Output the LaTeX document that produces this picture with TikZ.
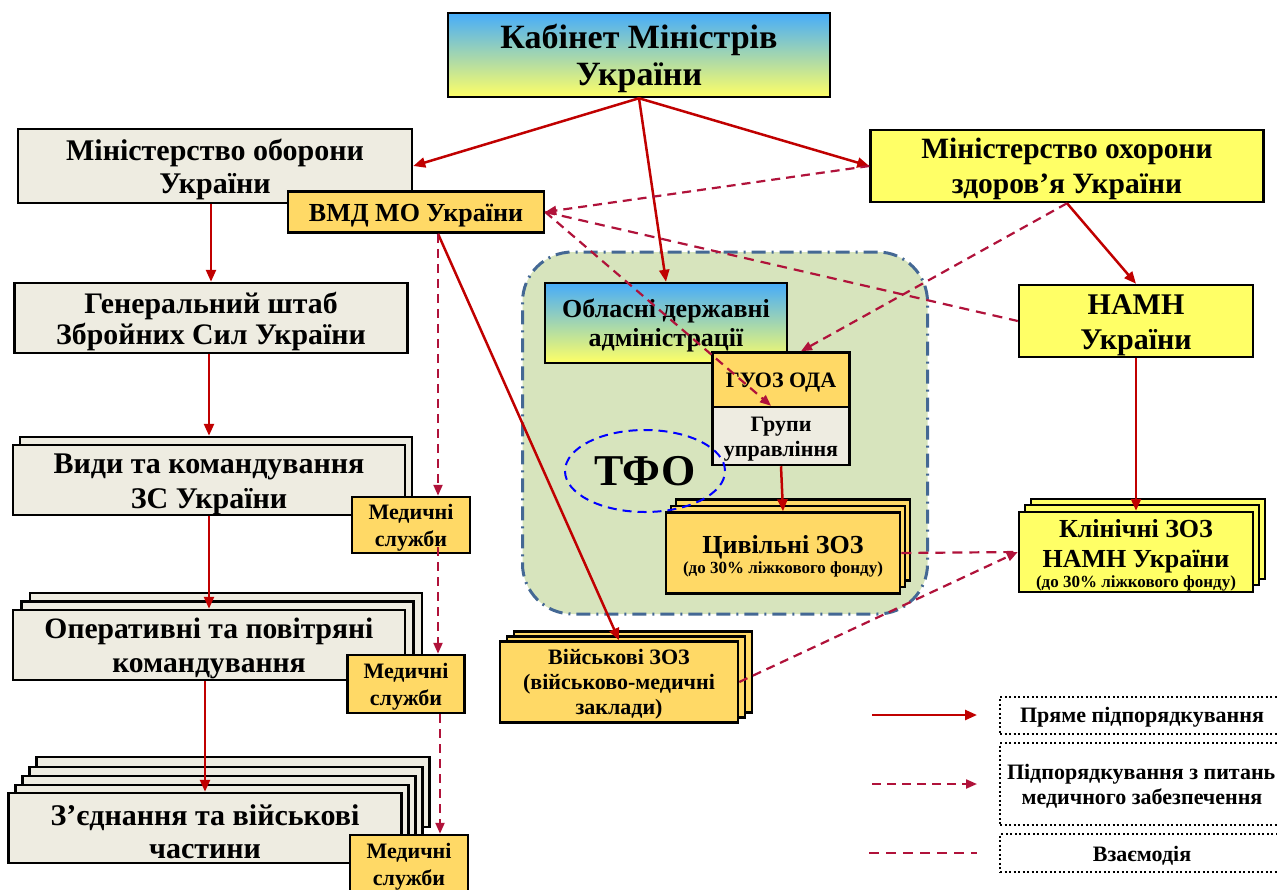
\documentclass[tikz,border=0pt]{standalone}
\usepackage{fontspec}
\setmainfont{Liberation Serif}
\usepackage{tikz}
\usetikzlibrary{shapes.geometric, shadows, arrows.meta}
\definecolor{dark}{RGB}{192, 0, 0}
\definecolor{mid}{RGB}{176, 18, 58}
\definecolor{beige}{RGB}{238, 236, 225}
\definecolor{gold}{RGB}{255, 217, 102}
\definecolor{lemon}{RGB}{255, 255, 102}
\definecolor{sky}{RGB}{70, 172, 250}
\definecolor{sage}{RGB}{215, 228, 189}
\definecolor{steel}{RGB}{68, 104, 148}
\newcommand*{\boxfont}[2]{\fontsize{#1}{#2}\selectfont\bfseries}
\newcommand*{\headroom}{\rule{0pt}{0.92em}}

\begin{document}
\begin{tikzpicture}[
   x=1pt, y=-1pt,
   base/.style={rectangle, draw=black, line width=2.5, text=black, align=center,
                inner sep=0},
   beigebox/.style={base, fill=beige},
   goldbox/.style={base, fill=gold},
   lemonbox/.style={base, fill=lemon},
   gradbox/.style={base, top color=sky, bottom color=lemon},
   pile/.style args={#1/#2/#3}{copy shadow={shadow xshift=#1, shadow yshift=#2,
                fill=#3, draw=black, line width=2.5}},
   region/.style={rectangle, rounded corners=50, draw=steel, fill=sage, line width=3,
                  dash pattern=on 14pt off 6pt on 2pt off 6pt},
   zone/.style={ellipse, draw=blue, line width=2, dash pattern=on 9pt off 6pt,
                inner sep=0},
   keybox/.style={base, line width=2, dash pattern=on 2pt off 2.5pt,
                  minimum width=284},
   direct/.style={-{Triangle[length=12pt, width=10pt]}, color=dark, line width=2.5},
   medical/.style={-{Triangle[length=11pt, width=9pt]}, color=mid, line width=2.2,
                   dash pattern=on 9pt off 6pt},
   contact/.style={color=mid, line width=2.2, dash pattern=on 10pt off 7pt}
  ]

  \useasboundingbox (0, 0) rectangle (1277, 889);

  % Territory
  \node (terr) at (725, 433) [region, minimum width=405, minimum height=362] {};

  \node (cab) at (639, 55) [gradbox, minimum width=382, minimum height=84,
    font=\boxfont{34}{37}] {\headroom Кабінет Міністрів\\України};

  % Defence column
  \node (mo) at (215, 166) [beigebox, minimum width=394, minimum height=74,
    font=\boxfont{30}{33}] {\headroom Міністерство оборони\\України};
  \node (vmd) at (416, 212) [goldbox, minimum width=256, minimum height=41,
    font=\boxfont{26}{28}] {\headroom ВМД МО України};
  \node (gsh) at (211, 318) [beigebox, minimum width=393, minimum height=70,
    font=\boxfont{29.8}{31}] {\headroom Генеральний штаб\\Збройних Сил України};
  \node (vydy) at (209, 480) [beigebox, pile=7pt/8pt/beige, minimum width=392,
    minimum height=70, font=\boxfont{30}{35}] {\headroom Види та командування\\ЗС України};
  \node (med1) at (411, 525) [goldbox, minimum width=118, minimum height=56,
    font=\boxfont{22}{27}] {\headroom Медичні\\служби};
  \node (oper) at (209, 645) [beigebox, pile=17pt/17pt/beige, pile=8.5pt/8.5pt/beige,
    minimum width=392, minimum height=70, font=\boxfont{29.6}{34}]
    {\headroom Оперативні та повітряні\\командування};
  \node (med2) at (406, 684) [goldbox, minimum width=117, minimum height=58,
    font=\boxfont{22}{27}] {\headroom Медичні\\служби};
  \node (zed) at (205, 828) [beigebox, pile=28pt/36pt/beige, pile=21pt/26pt/beige,
    pile=14pt/17pt/beige, pile=7pt/8pt/beige, minimum width=393, minimum height=70,
    font=\boxfont{30}{33}] {\headroom З’єднання та військові\\частини};
  \node (med3) at (409, 864) [goldbox, minimum width=118, minimum height=58,
    font=\boxfont{22}{27}] {\headroom Медичні\\служби};

  % Health column
  \node (moz) at (1067, 166) [lemonbox, minimum width=393, minimum height=72,
    font=\boxfont{29.5}{35}] {\headroom Міністерство охорони\\здоров’я України};
  \node (namh) at (1136, 321) [lemonbox, minimum width=234, minimum height=72,
    font=\boxfont{30}{35}] {\headroom НАМН\\України};
  \node (klin) at (1136, 552) [lemonbox, pile=12pt/13pt/lemon, pile=6pt/7pt/lemon,
    minimum width=234, minimum height=80, font=\boxfont{26}{30}]
    {\headroom Клінічні ЗОЗ\\НАМН України\\[-10pt]{\boxfont{17}{20}(до 30\% ліжкового фонду)}};

  % Regional level
  \node (oda) at (666, 323) [gradbox, minimum width=242, minimum height=80,
    font=\boxfont{26}{29}] {\headroom Обласні державні\\адміністрації};
  \node (guoz) at (781, 380) [goldbox, minimum width=137, minimum height=55,
    font=\boxfont{22}{25}] {\headroom ГУОЗ ОДА};
  \node (grupy) at (781, 436) [beigebox, minimum width=137, minimum height=58,
    font=\boxfont{22}{25}] {\headroom Групи\\управління};
  \node (civ) at (783, 553) [goldbox, pile=10pt/13pt/gold, pile=5pt/6.5pt/gold,
    minimum width=234, minimum height=81, font=\boxfont{26}{30}]
    {\headroom Цивільні ЗОЗ\\[-10pt]{\boxfont{17}{20}(до 30\% ліжкового фонду)}};
  \node (tfo) at (645, 471) [zone, minimum width=160, minimum height=82,
    font=\boxfont{44}{44}] {ТФО};
  \node (vijsk) at (619, 682) [goldbox, pile=14pt/10pt/gold, pile=7pt/5pt/gold,
    minimum width=238, minimum height=81, font=\boxfont{22}{25}]
    {\headroom Військові ЗОЗ\\(військово-медичні\\заклади)};

  % Legend
  \node (key1) at (1142, 715) [keybox, minimum height=37, font=\boxfont{22}{25}]
    {\headroom Пряме підпорядкування};
  \node (key2) at (1142, 784) [keybox, minimum height=82, font=\boxfont{22}{25}]
    {\headroom\makebox[270pt][l]{Підпорядкування з питань}\\медичного забезпечення};
  \node (key3) at (1142, 853) [keybox, minimum height=38, font=\boxfont{22}{25}]
    {\headroom Взаємодія};

  \foreach \B/\E in {cab.south/mo.east, cab.south/moz.west, cab.south/oda.north,
                     moz.south/namh.north, namh.south/klin.north,
                     grupy.south/civ.north} {
    \draw[direct] (\B) -- (\E);
  }
  \draw[direct] (mo.south -| gsh.north) -- (gsh.north);
  \draw[direct] (gsh.south -| vydy.north) -- ([yshift=8pt]vydy.north);
  \draw[direct] (vydy.south -| oper.north) -- (oper.north);
  \draw[direct] (oper.south -| zed.north) -- (zed.north);
  \draw[direct] ([xshift=22pt]vmd.south) -- (vijsk.north);

  \draw[medical] ([xshift=22pt]vmd.south) -- ([xshift=27pt]med1.north);
  \draw[medical] ([xshift=27pt, yshift=7pt]med1.south) -- ([xshift=32pt]med2.north);
  \draw[medical] ([xshift=34pt]med2.south) -- ([xshift=31pt]med3.north);
  \draw[medical] (moz.west) -- (vmd.east);
  \draw[medical] (vmd.east) -- ([xshift=-10pt]grupy.north);
  \draw[medical] (moz.south) -- ([xshift=20pt]guoz.north);
  \draw[medical] (vijsk.east) -- (klin.west);

  \draw[contact] (vmd.east) -- (namh.west);
  \draw[contact] (civ.east) -- (klin.west);

  \draw[direct] ([xshift=-127pt]key1.west) -- ([xshift=-22pt]key1.west);
  \draw[medical] ([xshift=-127pt]key2.west) -- ([xshift=-22pt]key2.west);
  \draw[contact] ([xshift=-130pt]key3.west) -- ([xshift=-22pt]key3.west);

\end{tikzpicture}
\end{document}
